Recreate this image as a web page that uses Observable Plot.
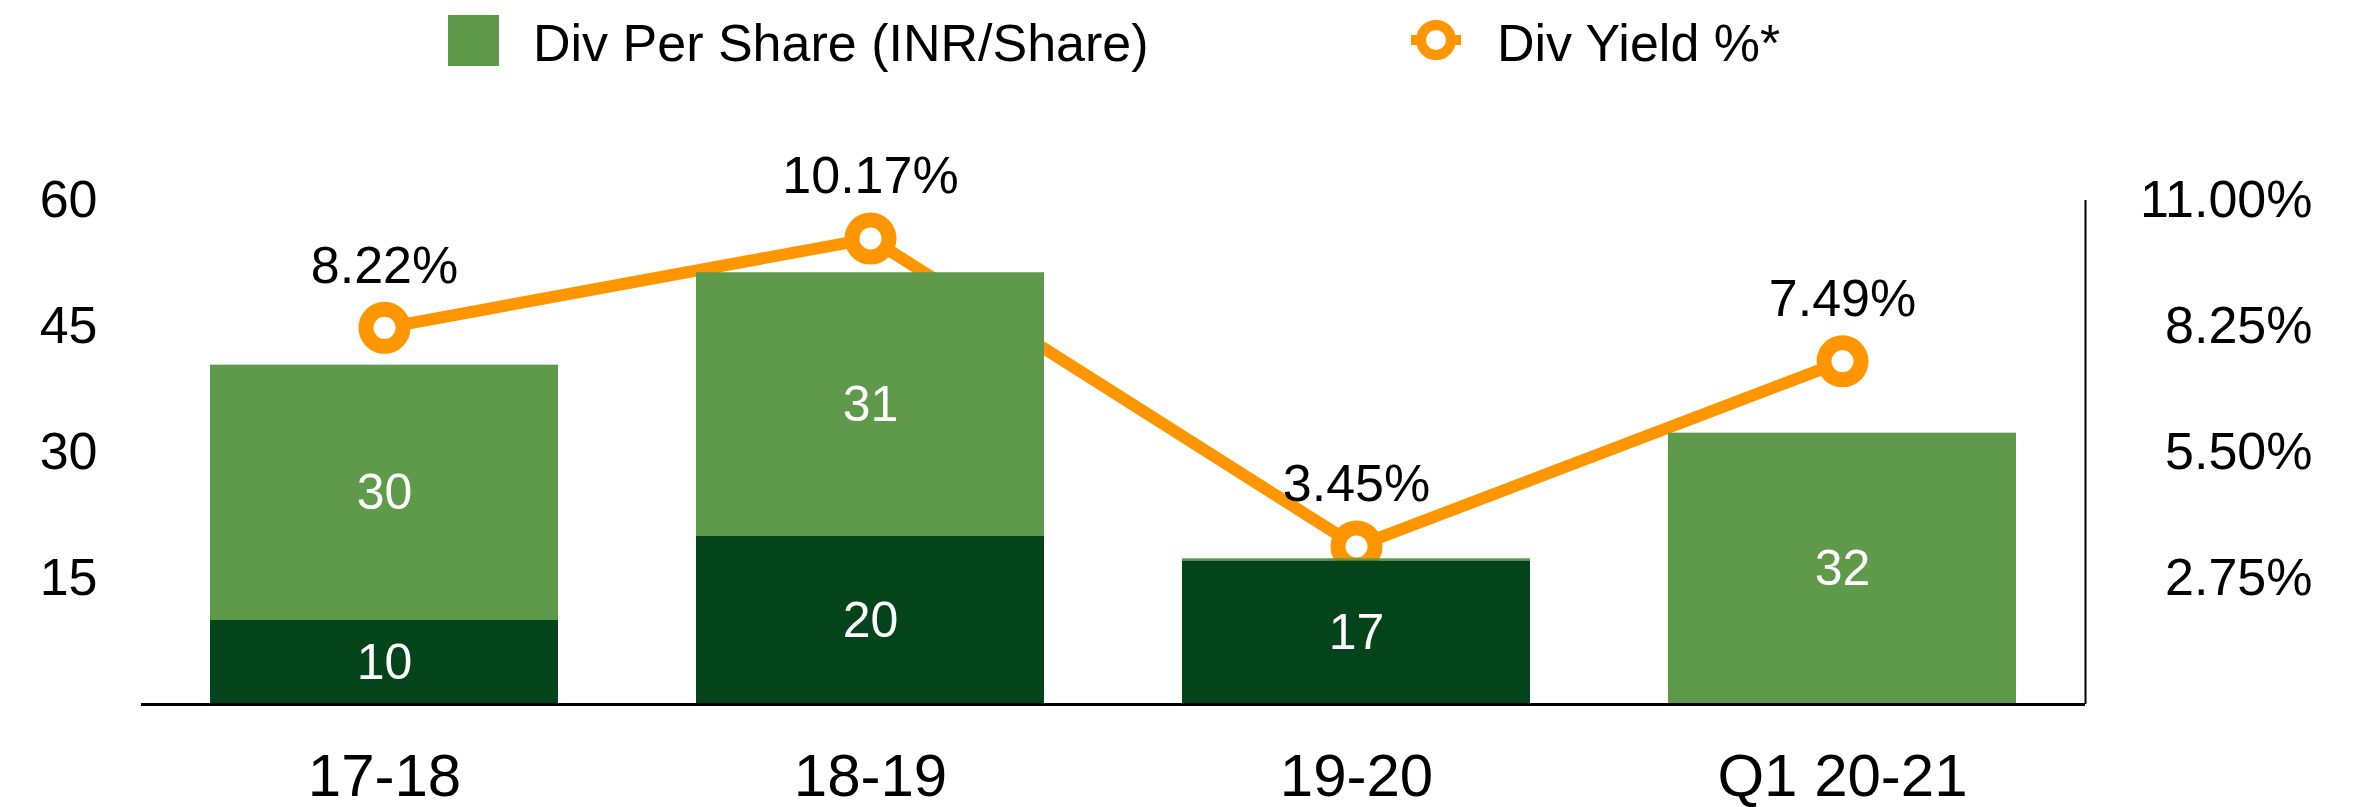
<!DOCTYPE html>
<html>
<head>
<meta charset="utf-8">
<script src="https://cdn.jsdelivr.net/npm/d3@7"></script>
<script src="https://cdn.jsdelivr.net/npm/@observablehq/plot@0.6"></script>
<style>
  html, body { margin: 0; padding: 0; background: #fff; }
  #legend, #chart svg { display: block; }
</style>
</head>
<body>
<svg id="legend" width="2376" height="80"></svg>
<div id="chart"></div>
<script>
// ---- data ----
const periods = ["17-18", "18-19", "19-20", "Q1 20-21"];
const divDark = [10, 20, 17.1, 0];        // lower (dark) segment, INR/share
const divLight = [30.4, 31.4, 0.25, 32.3]; // upper (light) segment, INR/share
const yieldPct = [8.22, 10.17, 3.45, 7.49];
const leftTicks = [15, 30, 45, 60];
const rightTicks = [2.75, 5.5, 8.25, 11];
const seriesNames = ["Div Per Share (INR/Share)", "Div Yield %*"];

// ---- styles ----
const DARK = "#03441B", LIGHT = "#5E9A49", ORANGE = "#FF9600";
const FONT = "'Liberation Sans', Arial, Helvetica, sans-serif";
const W = 2376, H = 727;
const mL = 141, mR = 291, mT = 120, mB = 103;
const divMax = 60, yieldMax = 11;
const toLeft = v => v * divMax / yieldMax;

const bars = [];
periods.forEach((p, i) => {
  bars.push({period: p, part: "dark", value: divDark[i]});
  bars.push({period: p, part: "light", value: divLight[i]});
});
const yields = periods.map((p, i) => ({period: p, y: yieldPct[i]}));

const xOpts = {type: "band", domain: periods, range: [mL, W - mR], paddingInner: 0.284, paddingOuter: 0.142};
const xs = Plot.scale({x: xOpts});
const lastCenter = xs.apply(periods[periods.length - 1]) + xs.bandwidth / 2;
const rightDx = (W - mR) - lastCenter;

const chart = Plot.plot({
  width: W, height: H,
  marginLeft: mL, marginRight: mR, marginTop: mT, marginBottom: mB,
  style: {fontFamily: FONT, background: "white", overflow: "visible"},
  x: {domain: periods, paddingInner: 0.284, paddingOuter: 0.142, label: null},
  y: {domain: [0, divMax], label: null},
  color: {domain: ["dark", "light"], range: [DARK, LIGHT]},
  marks: [
    Plot.axisY({ticks: leftTicks, tickSize: 0, tickPadding: 44, fontSize: 52, fill: "black", label: null}),
    Plot.axisX({tickSize: 0, tickPadding: 49, fontSize: 60, fill: "black", label: null}),
    Plot.text(rightTicks, {y: d => toLeft(d), text: d => d3.format(".2f")(d) + "%", frameAnchor: "right", dx: 2312 - (W - mR), textAnchor: "end", fontSize: 52, fill: "black"}),
    Plot.ruleX([periods[periods.length - 1]], {y1: 0, y2: divMax, dx: rightDx, stroke: "black", strokeWidth: 2}),
    Plot.line(yields, {x: "period", y: d => toLeft(d.y), stroke: ORANGE, strokeWidth: 12}),
    Plot.dot(yields, {x: "period", y: d => toLeft(d.y), r: 18.5, stroke: ORANGE, strokeWidth: 15, fill: "white"}),
    Plot.barY(bars, {x: "period", y: "value", fill: "part", order: null}),
    Plot.text(bars, Plot.stackY({x: "period", y: "value", order: null, text: d => d.value >= 1 ? String(Math.round(d.value)) : "", fill: "white", fontSize: 50})),
    Plot.text(yields, {x: "period", y: d => toLeft(d.y), text: d => d3.format(".2f")(d.y) + "%", dy: -62, fontSize: 52, fill: "black"}),
    Plot.ruleY([0], {stroke: "black", strokeWidth: 3})
  ]
});
document.getElementById("chart").appendChild(chart);

// ---- legend ----
const lg = d3.select("#legend").style("font-family", FONT);
lg.append("rect").attr("x", 448).attr("y", 15).attr("width", 51).attr("height", 51).attr("fill", LIGHT);
lg.append("text").attr("x", 533).attr("y", 61).attr("font-size", 52).attr("fill", "black").text(seriesNames[0]);
lg.append("line").attr("x1", 1411).attr("x2", 1461).attr("y1", 40).attr("y2", 40).attr("stroke", ORANGE).attr("stroke-width", 10);
lg.append("circle").attr("cx", 1436).attr("cy", 40).attr("r", 15).attr("fill", "white").attr("stroke", ORANGE).attr("stroke-width", 10);
lg.append("text").attr("x", 1497).attr("y", 61).attr("font-size", 52).attr("fill", "black").text(seriesNames[1]);
</script>
</body>
</html>
